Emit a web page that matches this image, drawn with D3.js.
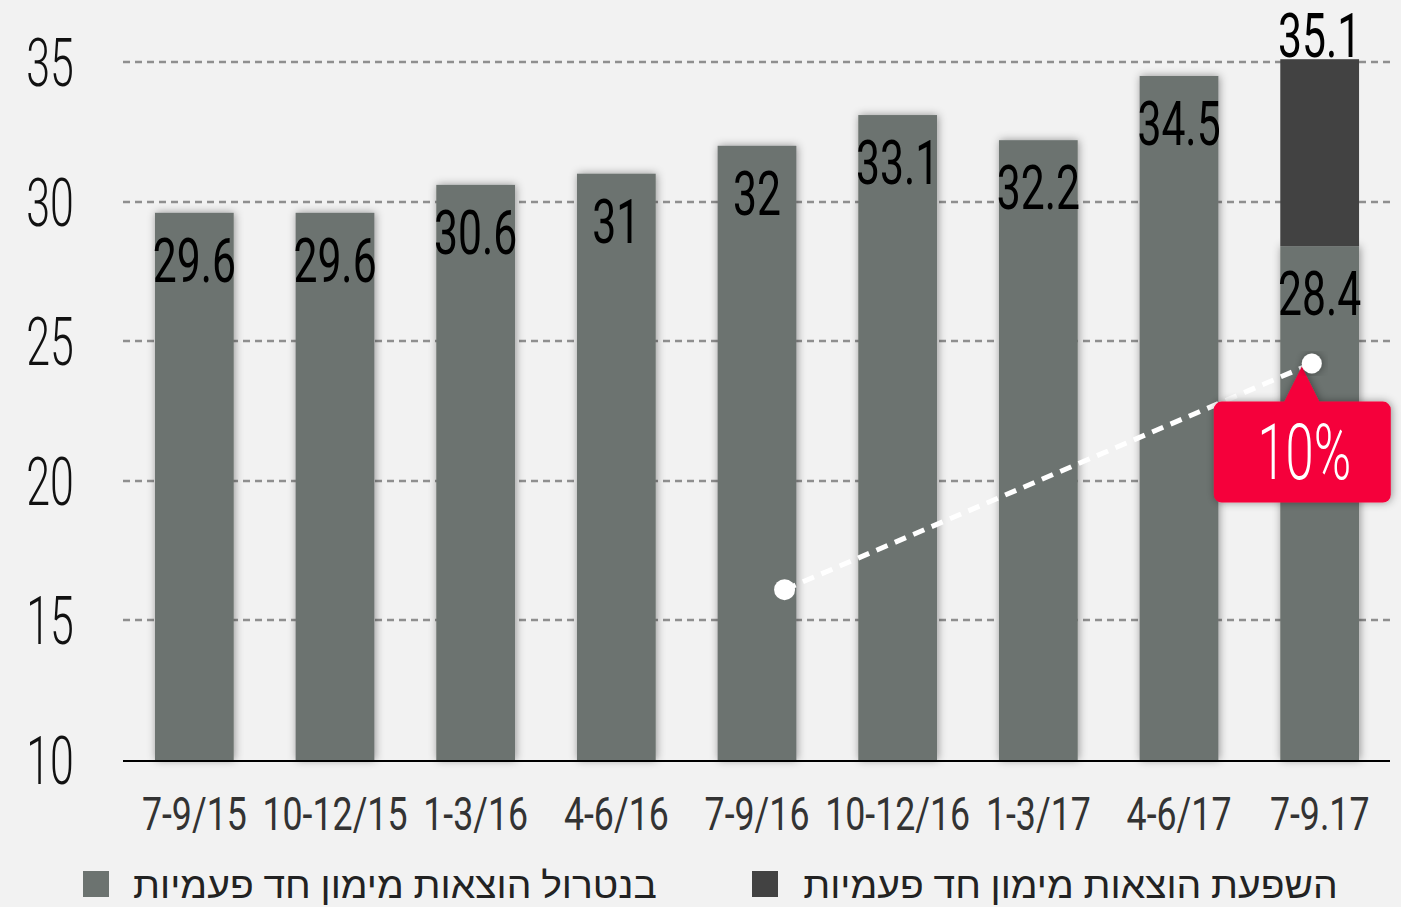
<!DOCTYPE html>
<html>
<head>
<meta charset="utf-8">
<script src="https://cdn.jsdelivr.net/npm/d3@7"></script>
<style>
  html, body { margin: 0; padding: 0; background: #f2f2f2; }
  text { font-family: Roboto, "Liberation Sans", sans-serif; }
</style>
</head>
<body>
<div id="chart"></div>
<script>
// data
var quarters = ["7-9/15", "10-12/15", "1-3/16", "4-6/16", "7-9/16", "10-12/16", "1-3/17", "4-6/17", "7-9.17"];
var baseValues = [29.6, 29.6, 30.6, 31, 32, 33.1, 32.2, 34.5, 28.4];
var oneOffValues = [0, 0, 0, 0, 0, 0, 0, 0, 6.7];
var totalLabels = ["", "", "", "", "", "", "", "", "35.1"];
var yTicks = [10, 15, 20, 25, 30, 35];
var legendLabels = ["בנטרול הוצאות מימון חד פעמיות", "השפעת הוצאות מימון חד פעמיות"];
var arrowFrom = { quarter: "7-9/16", frac: 0.85, value: 16.1 };
var arrowTo = { quarter: "7-9.17", frac: 0.4, value: 24.2 };
var growthLabel = "10%";

var width = 1401,
    height = 907,
    lightColor = "#6c7370",
    darkColor = "#424242",
    red = "#f5003a";

var svg = d3.select("#chart").append("svg")
    .attr("width", width)
    .attr("height", height)
    .style("display", "block");

svg.append("rect")
    .attr("width", width)
    .attr("height", height)
    .attr("fill", "#f2f2f2");

var defs = svg.append("defs");
defs.append("filter")
    .attr("id", "shadow")
    .attr("x", "-30%").attr("y", "-10%")
    .attr("width", "160%").attr("height", "120%")
  .append("feDropShadow")
    .attr("dx", 1).attr("dy", 0)
    .attr("stdDeviation", 4)
    .attr("flood-color", "#000")
    .attr("flood-opacity", 0.4);

var x = d3.scaleBand()
    .domain(quarters)
    .range([124, 1390])
    .paddingInner(0.44)
    .paddingOuter(0.22);

var y = d3.scaleLinear()
    .domain([10, 35])
    .range([760, 62]);

// condensed text helper: draw at origin and squeeze horizontally
function squeezed(g, px, py, str, sx) {
  return g.append("g")
      .attr("transform", "translate(" + px + "," + py + ") scale(" + sx + ",1)")
    .append("text")
      .attr("text-anchor", "middle")
      .text(str);
}

// dashed gridlines
svg.append("g").selectAll("line")
    .data(yTicks.filter(function(d) { return d > 10; }))
  .enter().append("line")
    .attr("x1", 123).attr("x2", 1390)
    .attr("y1", function(d) { return Math.round(y(d)); })
    .attr("y2", function(d) { return Math.round(y(d)); })
    .attr("stroke", "#8f8f8f")
    .attr("stroke-width", 2.5)
    .attr("stroke-dasharray", "7,5");

// y tick labels
var yLab = svg.append("g")
    .attr("fill", "#111")
    .attr("font-size", 67)
    .attr("font-weight", 300);
yTicks.forEach(function(t) {
  squeezed(yLab, 50, y(t) + 24, t, 0.64);
});

// bars
var bars = svg.append("g");
bars.selectAll("rect.base")
    .data(baseValues)
  .enter().append("rect")
    .attr("class", "base")
    .attr("x", function(d, i) { return x(quarters[i]); })
    .attr("width", x.bandwidth())
    .attr("y", function(d) { return y(d); })
    .attr("height", function(d) { return y(10) - y(d); })
    .attr("fill", lightColor)
    .attr("filter", "url(#shadow)");

var last = baseValues.length - 1;
bars.selectAll("rect.oneoff")
    .data(oneOffValues.slice(last))
  .enter().append("rect")
    .attr("class", "oneoff")
    .attr("x", x(quarters[last]))
    .attr("width", x.bandwidth())
    .attr("y", function(d) { return y(baseValues[last] + d); })
    .attr("height", function(d) { return y(baseValues[last]) - y(baseValues[last] + d); })
    .attr("fill", darkColor);

// axis line
svg.append("line")
    .attr("x1", 123).attr("x2", 1390)
    .attr("y1", y(10) + 1).attr("y2", y(10) + 1)
    .attr("stroke", "#000")
    .attr("stroke-width", 2);

// value labels
var valLab = svg.append("g")
    .attr("fill", "#000")
    .attr("font-size", 61)
    .attr("font-weight", 400);
baseValues.forEach(function(v, i) {
  var cx = x(quarters[i]) + x.bandwidth() / 2;
  squeezed(valLab, cx, y(v) + 69, v, 0.7);
  if (totalLabels[i]) squeezed(valLab, cx, y(v + oneOffValues[i]) - 2, totalLabels[i], 0.7);
});

// x labels
var xLab = svg.append("g")
    .attr("fill", "#333")
    .attr("font-size", 47);
quarters.forEach(function(q) {
  squeezed(xLab, x(q) + x.bandwidth() / 2, 830, q, 0.76);
});

// growth arrow
var p0 = [x(arrowFrom.quarter) + arrowFrom.frac * x.bandwidth(), y(arrowFrom.value)],
    p1 = [x(arrowTo.quarter) + arrowTo.frac * x.bandwidth(), y(arrowTo.value)];

svg.append("line")
    .attr("x1", p0[0]).attr("y1", p0[1])
    .attr("x2", p1[0]).attr("y2", p1[1])
    .attr("stroke", "#fff")
    .attr("stroke-width", 5)
    .attr("stroke-dasharray", "12,8");

svg.append("circle")
    .attr("cx", p0[0]).attr("cy", p0[1]).attr("r", 10.5)
    .attr("fill", "#fff");

// callout box with pointer
var bx = p1[0] - 98, by = p1[1] + 38, bw = 177, bh = 101;
var callout = svg.append("g").attr("filter", "url(#shadow)");
callout.append("rect")
    .attr("x", bx).attr("y", by)
    .attr("width", bw).attr("height", bh)
    .attr("rx", 8)
    .attr("fill", red);
callout.append("path")
    .attr("d", "M" + (p1[0] - 28) + "," + (by + 1) + "L" + (p1[0] - 10) + "," + (p1[1] + 3) + "L" + (p1[0] + 8) + "," + (by + 1) + "Z")
    .attr("fill", red);

svg.append("circle")
    .attr("cx", p1[0]).attr("cy", p1[1]).attr("r", 10)
    .attr("fill", "#fff")
    .attr("filter", "url(#shadow)");

var pct = svg.append("g")
    .attr("fill", "#fff")
    .attr("font-size", 78)
    .attr("font-weight", 300);
squeezed(pct, bx + bw / 2 + 2, by + 77, growthLabel, 0.65);

// legend
var legend = svg.append("g");
var legendItems = [
  { label: legendLabels[0], color: lightColor, sq: 83, left: 133, right: 657 },
  { label: legendLabels[1], color: darkColor, sq: 752, left: 803, right: 1338 }
];
legendItems.forEach(function(d) {
  legend.append("rect")
      .attr("x", d.sq).attr("y", 871)
      .attr("width", 26).attr("height", 26)
      .attr("fill", d.color);
  var t = legend.append("text")
      .attr("direction", "rtl")
      .attr("text-anchor", "middle")
      .attr("font-family", "'Liberation Sans', 'DejaVu Sans', sans-serif")
      .attr("font-size", 36)
      .attr("fill", "#222")
      .text(d.label);
  var w = t.node().getComputedTextLength();
  var sx = (d.right - d.left) / w;
  t.attr("transform", "translate(" + ((d.left + d.right) / 2) + ",898) scale(" + sx + ",1)");
});
</script>
</body>
</html>
